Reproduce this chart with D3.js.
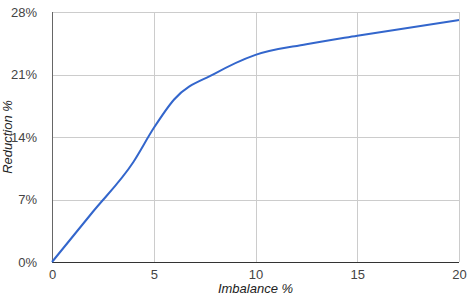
<!DOCTYPE html>
<html>
<head>
<meta charset="utf-8">
<script src="https://cdn.jsdelivr.net/npm/d3@7"></script>
<style>
  body { margin: 0; background: #fff; }
  svg { display: block; font-family: Arial, "Liberation Sans", sans-serif; }
</style>
</head>
<body>
<div id="app"></div>
<script>
// Imbalance % (x) vs Reduction % (y)
const imbalance = [0, 2, 4, 5, 6, 8, 10, 12.5, 15, 20];
const reduction = [0, 5.6, 11.2, 15, 18.2, 21.1, 23.2, 24.4, 25.35, 27.1];
const xTicks = [0, 5, 10, 15, 20];
const yTicks = [0, 7, 14, 21, 28];

const width = 468;
const height = 301;
const margin = { top: 12, right: 9, bottom: 39, left: 52 };

const svg = d3.select('#app').append('svg')
  .attr('width', width)
  .attr('height', height);

const x = d3.scaleLinear().domain([0, 20]).range([margin.left, width - margin.right]);
const y = d3.scaleLinear().domain([0, 28]).range([height - margin.bottom, margin.top]);

// gridlines
svg.append('g')
  .selectAll('line')
  .data(yTicks.slice(1))
  .enter()
  .append('line')
  .attr('x1', x(0)).attr('x2', x(20))
  .attr('y1', d => Math.round(y(d)) + 0.5).attr('y2', d => Math.round(y(d)) + 0.5)
  .attr('stroke', '#cccccc');

svg.append('g')
  .selectAll('line')
  .data(xTicks.slice(1))
  .enter()
  .append('line')
  .attr('x1', d => Math.round(x(d)) + 0.5).attr('x2', d => Math.round(x(d)) + 0.5)
  .attr('y1', y(0)).attr('y2', y(28))
  .attr('stroke', '#cccccc');

// axes (no tick marks, labels only)
const yAxis = d3.axisLeft(y).tickValues(yTicks).tickSize(0).tickPadding(15)
  .tickFormat(d => d + '%');
const xAxis = d3.axisBottom(x).tickValues(xTicks).tickSize(0).tickPadding(8);

const yAxisGroup = svg.append('g')
  .attr('transform', `translate(${margin.left},0)`)
  .call(yAxis);
yAxisGroup.select('.domain').remove();

const xAxisGroup = svg.append('g')
  .attr('transform', `translate(0,${height - margin.bottom})`)
  .call(xAxis);
xAxisGroup.select('.domain').remove();

svg.selectAll('.tick text')
  .attr('font-size', 13)
  .attr('font-family', 'Arial, "Liberation Sans", sans-serif')
  .attr('fill', '#444');

// baselines
svg.append('line')
  .attr('x1', Math.round(x(0)) + 0.5).attr('x2', Math.round(x(0)) + 0.5)
  .attr('y1', y(28)).attr('y2', y(0))
  .attr('stroke', '#666');
svg.append('line')
  .attr('x1', x(0)).attr('x2', x(20))
  .attr('y1', Math.round(y(0)) + 0.5).attr('y2', Math.round(y(0)) + 0.5)
  .attr('stroke', '#333');

// the curve
const lineFunc = d3.line()
  .x((d, i) => x(imbalance[i]))
  .y(d => y(d))
  .curve(d3.curveMonotoneX);

svg.append('path')
  .datum(reduction)
  .attr('fill', 'none')
  .attr('stroke', '#3366cc')
  .attr('stroke-width', 2)
  .attr('d', lineFunc);

// axis titles
svg.append('text')
  .attr('x', (x(0) + x(20)) / 2)
  .attr('y', 293)
  .attr('text-anchor', 'middle')
  .attr('font-size', 13)
  .attr('font-style', 'italic')
  .attr('fill', '#222')
  .text('Imbalance %');

svg.append('text')
  .attr('transform', `translate(12,${(y(0) + y(28)) / 2}) rotate(-90)`)
  .attr('text-anchor', 'middle')
  .attr('font-size', 13)
  .attr('font-style', 'italic')
  .attr('fill', '#222')
  .text('Reduction %');
</script>
</body>
</html>
